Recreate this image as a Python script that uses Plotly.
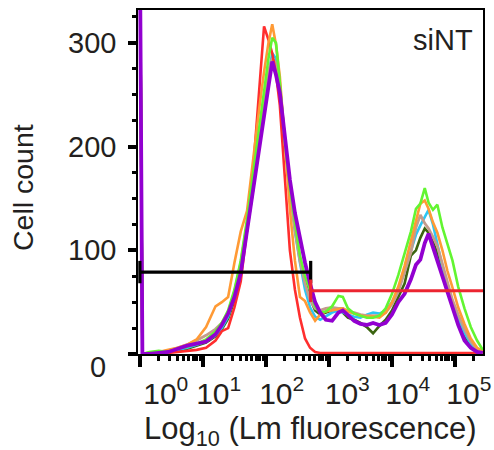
import math
import plotly.graph_objects as go

# ---------------- data ----------------
# x positions in log10(Lm fluorescence)
log_fluor = [0, 0.04, 0.15, 0.3, 0.45, 0.6, 0.75, 0.9, 1.05, 1.2,
             1.3, 1.4, 1.5, 1.6, 1.7, 1.8, 1.9, 1.97, 2.04, 2.1,
             2.16, 2.22, 2.3, 2.38, 2.46, 2.54, 2.62, 2.7, 2.78, 2.86,
             2.95, 3.05, 3.15, 3.22, 3.3, 3.4, 3.5, 3.6, 3.7, 3.8,
             3.9, 4.0, 4.1, 4.2, 4.3, 4.38, 4.45, 4.52, 4.58, 4.65,
             4.72, 4.8, 4.88, 4.96, 5.05, 5.15, 5.25, 5.35, 5.44]

count_dkgreen = [400, 0, 0, 1, 2, 3, 5, 8, 11, 17,
                 24, 34, 52, 78, 118, 160, 208, 240, 265, 285,
                 280, 258, 208, 162, 122, 92, 70, 54, 42, 38,
                 40, 42, 44, 40, 35, 33, 30, 26, 20, 27,
                 33, 42, 55, 68, 95, 100, 112, 121, 117, 108,
                 97, 82, 62, 45, 32, 18, 8, 3, 2]
count_cyan = [400, 0, 1, 1, 2, 4, 6, 9, 12, 18,
              25, 36, 55, 80, 120, 165, 215, 245, 270, 290,
              285, 255, 205, 160, 118, 88, 62, 45, 36, 33,
              36, 40, 42, 40, 38, 36, 35, 38, 40, 39,
              42, 50, 62, 80, 100, 115, 124, 132, 139, 125,
              106, 84, 66, 50, 35, 20, 10, 4, 2]
count_tan = [400, 0, 1, 2, 3, 6, 9, 13, 18, 24,
             30, 40, 60, 88, 125, 170, 218, 248, 272, 285,
             280, 255, 205, 158, 120, 90, 68, 52, 44, 42,
             44, 45, 44, 44, 41, 40, 38, 37, 37, 37,
             40, 48, 60, 78, 98, 122, 134, 126, 121, 113,
             104, 87, 70, 52, 38, 24, 12, 5, 2]
count_red = [400, 0, 0, 0, 1, 2, 3, 4, 6, 13,
             22, 25, 45, 70, 120, 180, 260, 316, 303, 290,
             270, 240, 170, 100, 62, 35, 15, 6, 2, 1,
             1, 1, 1, 1, 1, 1, 1, 1, 1, 1,
             1, 1, 1, 1, 1, 1, 1, 1, 1, 1,
             1, 1, 1, 1, 1, 1, 1, 1, 1]
count_orange = [400, 0, 1, 2, 4, 6, 9, 14, 26, 46,
                50, 55, 88, 118, 138, 190, 240, 272, 300, 318,
                298, 268, 200, 140, 90, 55, 51, 40, 32, 38,
                41, 42, 43, 44, 41, 39, 37, 36, 36, 35,
                40, 50, 65, 85, 108, 128, 145, 148, 140, 127,
                117, 100, 80, 64, 45, 29, 15, 6, 3]
count_lime = [400, 0, 2, 3, 2, 5, 7, 10, 14, 22,
              30, 42, 62, 90, 130, 175, 225, 255, 285, 305,
              300, 262, 205, 160, 125, 95, 75, 62, 46, 40,
              41, 46, 56, 55, 44, 39, 37, 35, 35, 37,
              44, 58, 76, 98, 118, 140, 145, 160, 146, 139,
              144, 122, 105, 90, 65, 44, 26, 13, 4]
count_purple = [400, 0, 0, 1, 2, 5, 8, 10, 12, 19,
                28, 39, 55, 78, 120, 163, 200, 230, 258, 282,
                269, 252, 212, 168, 136, 110, 88, 68, 50, 40,
                33, 32, 40, 42, 37, 32, 29, 28, 30, 28,
                30, 38, 50, 58, 72, 86, 91, 107, 116, 103,
                90, 74, 60, 45, 28, 13, 6, 2, 1]

series = [
    ("dkgreen", count_dkgreen, "#3b6410", 2.6),
    ("cyan", count_cyan, "#2cc6f4", 2.6),
    ("tan", count_tan, "#c49c8c", 2.8),
    ("red", count_red, "#ff2e2e", 2.6),
    ("orange", count_orange, "#ff9a35", 2.6),
    ("lime", count_lime, "#62f531", 2.6),
    ("purple", count_purple, "#9200d0", 3.8),
]

# gates (log10 fluorescence limits, gate height in cell count)
gate_neg_x = [0, 2.71]
gate_neg_y = [79, 79]
gate_pos_x = [2.71, 5.47]
gate_pos_y = [61, 61]

decades = [0, 1, 2, 3, 4, 5]
decade_labels = ["10<sup>0</sup>", "10<sup>1</sup>", "10<sup>2</sup>",
                 "10<sup>3</sup>", "10<sup>4</sup>", "10<sup>5</sup>"]
y_major = [0, 100, 200, 300]
y_labels = ["", "100", "200", "300"]

# ---------------- figure ----------------
FONT = "Liberation Sans, Arial, sans-serif"
TXT = "#231f20"
fig = go.Figure()

for name, ys, col, w in series:
    assert len(ys) == len(log_fluor)
    fig.add_trace(go.Scatter(x=log_fluor, y=ys, mode="lines", name=name,
                             line=dict(color=col, width=w), hoverinfo="skip"))

fig.add_trace(go.Scatter(x=gate_neg_x, y=gate_neg_y, mode="lines+markers",
                         line=dict(color="#000000", width=3.2),
                         marker=dict(symbol="line-ns", size=16,
                                     line=dict(color="#000000", width=3.2)),
                         cliponaxis=False, hoverinfo="skip"))
fig.add_trace(go.Scatter(x=gate_pos_x, y=gate_pos_y, mode="lines+markers",
                         line=dict(color="#ec2530", width=3.2),
                         marker=dict(symbol="line-ns", size=16,
                                     line=dict(color="#ec2530", width=3.2)),
                         cliponaxis=False, hoverinfo="skip"))

# dummy trace to carry the label axis
fig.add_trace(go.Scatter(x=[0, 5], y=[None, None], xaxis="x2", yaxis="y",
                         mode="lines", hoverinfo="skip", showlegend=False))

minor_vals = [d + math.log10(m) for d in decades for m in range(2, 10)
              if d + math.log10(m) < 5.44]
label_shift = [0.41, 0.25, 0.25, 0.29, 0.25, 0.22]
label_pos = [d + s for d, s in zip(decades, label_shift)]

xr = [-0.03, 5.444]
fig.update_layout(
    width=494, height=450,
    margin=dict(l=138, r=11, t=10, b=96, autoexpand=False),
    paper_bgcolor="white", plot_bgcolor="white",
    showlegend=False,
    font=dict(family=FONT, color=TXT, size=28),
    xaxis=dict(range=xr, tickmode="array", tickvals=decades,
               showticklabels=False, ticks="outside", ticklen=11,
               tickwidth=4, tickcolor="#000",
               minor=dict(tickmode="array", tickvals=minor_vals,
                          ticks="outside", ticklen=5, tickwidth=2.5,
                          tickcolor="#000"),
               showline=True, linecolor="#000", linewidth=1.5, mirror=True,
               showgrid=False, zeroline=False),
    xaxis2=dict(range=xr, overlaying="x", anchor="y", side="bottom",
                tickmode="array", tickvals=label_pos, ticktext=decade_labels,
                ticks="", showline=False, showgrid=False, zeroline=False,
                ticklabelstandoff=19,
                tickfont=dict(size=30, family=FONT, color=TXT)),
    yaxis=dict(range=[0, 331.7], tickmode="array", tickvals=y_major,
               ticktext=y_labels, ticks="outside", ticklen=8, tickwidth=4,
               tickcolor="#000",
               minor=dict(tickmode="linear", dtick=25, tick0=0,
                          ticks="outside", ticklen=4, tickwidth=3,
                          tickcolor="#000"),
               ticklabelstandoff=6,
               tickfont=dict(size=29, family=FONT, color=TXT),
               showline=True, linecolor="#000", linewidth=1.5, mirror=True,
               showgrid=False, zeroline=False),
)

fig.add_annotation(text="0", xref="paper", yref="y", x=0, y=0,
                   xanchor="right", yanchor="middle", xshift=-30, yshift=-13,
                   showarrow=False, font=dict(size=29, family=FONT, color=TXT))
fig.add_annotation(text="Log<sub>10</sub> (Lm fluorescence)", xref="paper",
                   yref="paper", x=0.5, y=0, xanchor="center", yanchor="top",
                   yshift=-55, showarrow=False,
                   font=dict(size=31, family=FONT, color=TXT))
fig.add_annotation(text="Cell count", xref="paper", yref="paper", x=0, y=0.5,
                   xanchor="center", yanchor="middle", textangle=-90,
                   xshift=-115, yshift=-6, showarrow=False,
                   font=dict(size=28.5, family=FONT, color=TXT))
fig.add_annotation(text="siNT", xref="paper", yref="paper", x=0.885, y=0.913,
                   xanchor="center", yanchor="middle", showarrow=False,
                   font=dict(size=29, family=FONT, color=TXT))

fig.write_html("out.html", config={"displayModeBar": False},
               post_script="document.body.style.margin='0px';"
                           "document.body.style.overflow='hidden';")
